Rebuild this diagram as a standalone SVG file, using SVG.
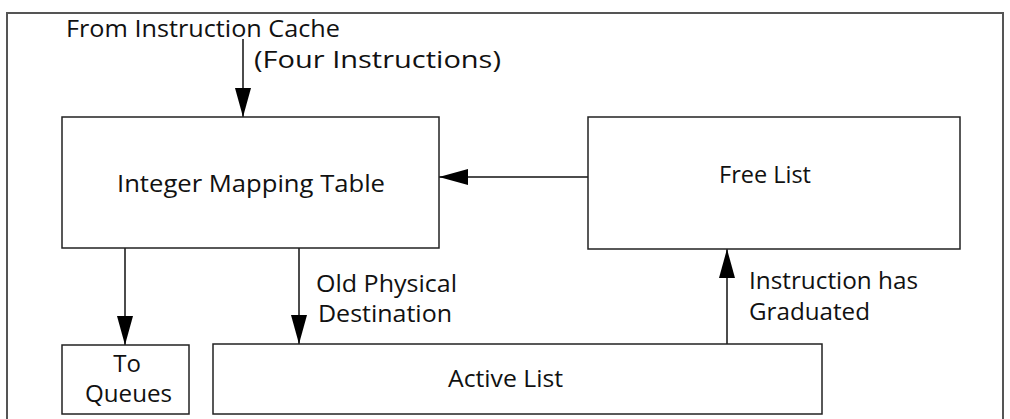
<svg xmlns="http://www.w3.org/2000/svg" width="1010" height="419" viewBox="0 0 1010 419">
<style>
.box{fill:#fff;stroke:#222;stroke-width:1.5}
.frame{fill:none;stroke:#555;stroke-width:2}
.t{font-family:"Open Sans","Liberation Sans",sans-serif;font-size:24px;fill:#111}
.ln{stroke:#111;stroke-width:1.5;fill:none}
</style>
<defs>
<marker id="ah" markerWidth="29" markerHeight="16" refX="29" refY="8" orient="auto" markerUnits="userSpaceOnUse" viewBox="0 0 29 16">
<path d="M0,0 L29,8 L0,16 Z" fill="#000"/>
</marker>
</defs>
<rect class="frame" x="7" y="13" width="996" height="420"/>
<g id="connectors">
<line class="ln" x1="243" y1="39" x2="243" y2="117" marker-end="url(#ah)"/>
<line class="ln" x1="588" y1="177" x2="439" y2="177" marker-end="url(#ah)"/>
<line class="ln" x1="125" y1="248" x2="125" y2="345" marker-end="url(#ah)"/>
<line class="ln" x1="299" y1="248" x2="299" y2="344" marker-end="url(#ah)"/>
<line class="ln" x1="727" y1="344" x2="727" y2="249" marker-end="url(#ah)"/>
<text class="t" x="66" y="37" textLength="274" lengthAdjust="spacingAndGlyphs">From Instruction Cache</text>
<text class="t" x="254" y="68" textLength="247" lengthAdjust="spacingAndGlyphs">(Four Instructions)</text>
<text class="t" x="316" y="292" textLength="141" lengthAdjust="spacingAndGlyphs">Old Physical</text>
<text class="t" x="318" y="322" textLength="134" lengthAdjust="spacingAndGlyphs">Destination</text>
<text class="t" x="749" y="289" textLength="169" lengthAdjust="spacingAndGlyphs">Instruction has</text>
<text class="t" x="749" y="320" textLength="121" lengthAdjust="spacingAndGlyphs">Graduated</text>
</g>
<g id="imt">
<rect class="box" x="62" y="117" width="377" height="131"/>
<text class="t" x="117" y="192" textLength="268" lengthAdjust="spacingAndGlyphs">Integer Mapping Table</text>
</g>
<g id="freelist">
<rect class="box" x="588" y="117" width="372" height="132"/>
<text class="t" x="719" y="183" textLength="92" lengthAdjust="spacingAndGlyphs">Free List</text>
</g>
<g id="queues">
<rect class="box" x="62" y="345" width="127" height="69"/>
<text class="t" x="127" y="372" text-anchor="middle">To</text>
<text class="t" x="85" y="402" textLength="87" lengthAdjust="spacingAndGlyphs">Queues</text>
</g>
<g id="activelist">
<rect class="box" x="213" y="344" width="609" height="70"/>
<text class="t" x="448" y="387" textLength="115" lengthAdjust="spacingAndGlyphs">Active List</text>
</g>
</svg>
